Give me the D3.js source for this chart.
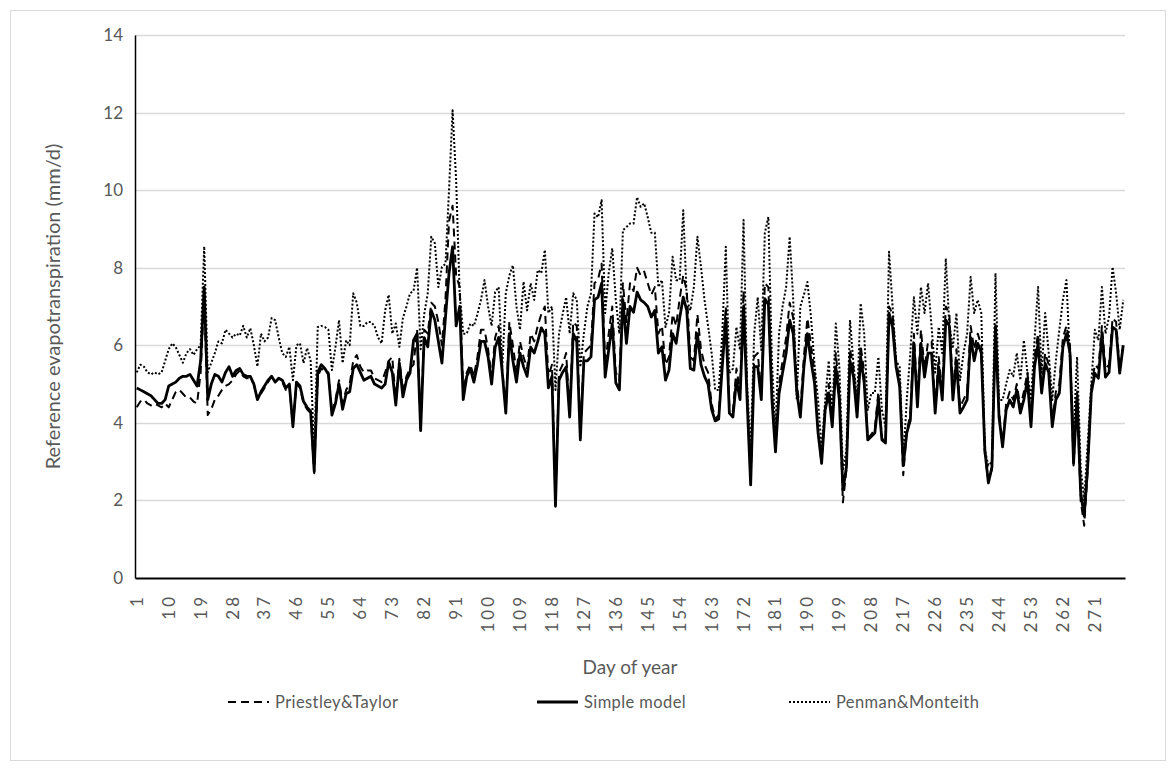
<html lang="en">
<head>
<meta charset="utf-8">
<title>Reference evapotranspiration</title>
<script src="https://d3js.org/d3.v7.min.js"></script>
<style>
  body { margin: 0; background: #fff; }
  text { font-family: Lato, "Open Sans", sans-serif; fill: #595959; }
</style>
</head>
<body>
<script>

// day of year 1..279
var days = d3.range(1, 280);

var xTickLabels = [1, 10, 19, 28, 37, 46, 55, 64, 73, 82, 91, 100, 109, 118, 127, 136,
  145, 154, 163, 172, 181, 190, 199, 208, 217, 226, 235, 244, 253, 262, 271];

var yTicks = [0, 2, 4, 6, 8, 10, 12, 14];

var seriesNames = ["Priestley&Taylor", "Simple model", "Penman&Monteith"];

// Simple model (mm/d)
var simpleModel = [
  4.9, 4.85, 4.8, 4.75, 4.7, 4.6, 4.5, 4.5, 4.6, 4.95,
  5.0, 5.05, 5.15, 5.2, 5.2, 5.25, 5.1, 4.95, 5.6, 7.5,
  4.6, 5.0, 5.25, 5.2, 5.05, 5.3, 5.45, 5.2, 5.35, 5.4,
  5.25, 5.2, 5.2, 5.0, 4.6, 4.8, 4.95, 5.1, 5.2, 5.05,
  5.15, 5.1, 4.9, 5.0, 3.9, 5.05, 4.95, 4.55, 4.4, 4.3,
  2.75, 5.3, 5.5, 5.4, 5.25, 4.2, 4.5, 5.0, 4.35, 4.75,
  4.8, 5.4, 5.5, 5.3, 5.1, 5.15, 5.2, 5.0, 4.95, 4.9,
  5.0, 5.57, 5.3, 4.46, 5.54, 4.67, 5.1, 5.28, 6.13, 6.3,
  3.8, 6.2, 5.96, 6.9, 6.65, 6.1, 5.54, 6.73, 7.86, 8.54,
  6.5, 7.0, 4.6, 5.2, 5.4, 5.05, 5.5, 6.1, 6.1, 5.7,
  5.0, 5.95, 6.2, 5.3, 4.25, 6.3, 5.6, 5.05, 5.8, 5.45,
  5.2, 5.95, 5.8, 6.1, 6.45, 6.3, 4.9, 5.2, 1.85, 5.1,
  5.3, 5.44, 4.15, 6.3, 6.1, 3.56, 5.6, 5.6, 5.7, 7.17,
  7.24, 7.6, 5.18, 5.88, 6.56, 5.03, 4.85, 7.17, 6.05, 7.0,
  6.85, 7.37, 7.17, 7.1, 7.0, 6.73, 6.9, 5.8, 5.96, 5.1,
  5.36, 6.3, 6.05, 6.7, 7.24, 6.9, 5.4, 5.36, 6.3, 5.5,
  5.2, 5.0, 4.35, 4.05, 4.1, 5.45, 6.7, 4.25, 4.15, 5.1,
  4.6, 7.0, 4.6, 2.4, 5.45, 5.45, 4.6, 7.2, 7.05, 4.6,
  3.25, 4.75, 5.3, 5.8, 6.65, 6.3, 4.8, 4.15, 5.44, 6.3,
  5.6, 5.03, 3.74, 2.96, 4.33, 4.77, 3.9, 5.44, 4.59, 2.27,
  2.86, 5.6, 5.18, 4.15, 5.7, 5.03, 3.56, 3.65, 3.74, 4.59,
  3.56, 3.48, 6.83, 6.47, 5.44, 4.93, 2.9, 3.74, 4.07, 6.05,
  4.41, 6.05, 5.18, 5.8, 5.8, 4.25, 5.44, 4.59, 6.65, 6.5,
  4.59, 5.6, 4.25, 4.41, 4.59, 6.2, 5.6, 6.05, 5.8, 3.3,
  2.45, 2.86, 6.47, 4.15, 3.38, 4.33, 4.59, 4.41, 4.85, 4.25,
  4.6, 5.1, 3.9, 5.44, 6.05, 4.77, 5.54, 5.3, 3.9, 4.59,
  4.77, 5.96, 6.3, 5.8, 2.96, 4.67, 2.2, 1.6, 2.9, 4.77,
  5.28, 5.15, 6.3, 5.18, 5.3, 6.47, 6.4, 5.28, 6.0
];

// Penman&Monteith (mm/d)
var penmanMonteith = [
  5.3, 5.5, 5.45, 5.3, 5.25, 5.3, 5.25, 5.3, 5.6, 5.9,
  6.05, 5.95, 5.75, 5.55, 5.8, 5.9, 5.75, 5.9, 6.0, 8.55,
  5.3, 5.55, 5.8, 6.1, 6.05, 6.4, 6.3, 6.2, 6.3, 6.25,
  6.5, 6.2, 6.44, 6.0, 5.45, 6.3, 6.1, 6.2, 6.7, 6.65,
  6.2, 5.8, 5.7, 5.96, 5.1, 6.0, 6.05, 5.54, 5.93, 5.6,
  3.2, 6.47, 6.5, 6.47, 6.4, 5.36, 5.96, 6.65, 5.54, 6.13,
  6.0, 7.34, 7.1, 6.5, 6.5, 6.6, 6.6, 6.5, 6.2, 6.05,
  6.9, 7.3, 6.3, 6.56, 5.96, 6.7, 7.0, 7.34, 7.4, 8.0,
  5.9, 6.8, 7.34, 8.8, 8.63, 7.5, 8.02, 8.1, 10.0, 12.06,
  10.26, 7.34, 6.3, 6.3, 6.56, 6.5, 6.8, 7.17, 7.68, 7.0,
  6.5, 7.37, 7.5, 5.44, 7.34, 7.8, 8.06, 7.0, 6.4, 7.64,
  6.9, 7.6, 7.17, 7.94, 7.86, 8.46, 6.83, 7.0, 4.85, 6.3,
  6.8, 7.24, 6.3, 7.34, 7.17, 5.44, 6.3, 7.0, 7.34, 9.4,
  9.3, 9.74, 6.83, 7.86, 8.5, 7.17, 6.3, 8.97, 9.05, 9.14,
  9.14, 9.82, 9.57, 9.66, 9.3, 8.9, 8.9, 7.5, 7.68, 6.47,
  6.83, 8.28, 7.68, 7.68, 9.48, 7.2, 6.9, 7.5, 8.8, 8.02,
  7.17, 6.5, 5.8, 4.85, 4.85, 6.3, 8.54, 5.28, 5.4, 6.47,
  5.88, 9.23, 5.03, 3.3, 6.3, 7.24, 5.88, 8.9, 9.31, 5.6,
  3.74, 6.3, 7.0, 7.5, 8.8, 7.17, 4.6, 7.0, 7.3, 7.63,
  6.73, 5.5, 4.59, 3.3, 4.59, 5.6, 4.15, 6.56, 5.44, 2.78,
  3.3, 6.65, 5.5, 4.59, 7.08, 6.3, 4.33, 4.77, 4.77, 5.7,
  4.33, 3.9, 8.41, 7.0, 5.6, 5.44, 3.0, 4.59, 5.8, 7.24,
  6.3, 7.5, 6.83, 7.6, 6.47, 5.3, 6.47, 5.8, 8.24, 6.5,
  5.96, 6.83, 5.1, 5.8, 6.3, 7.76, 6.83, 7.17, 6.83, 3.3,
  2.9, 3.0, 7.86, 4.59, 4.59, 5.0, 5.36, 5.2, 5.8, 5.1,
  6.13, 5.3, 4.59, 6.13, 7.5, 5.3, 6.83, 5.8, 4.59, 5.6,
  6.4, 7.17, 7.68, 5.6, 3.74, 5.7, 2.86, 2.0, 3.5, 5.0,
  6.4, 6.13, 7.5, 6.3, 6.73, 8.02, 7.34, 6.4, 7.17
];

// Priestley&Taylor (mm/d)
var priestleyTaylor = [
  4.4, 4.55, 4.6, 4.5, 4.45, 4.5, 4.45, 4.4, 4.5, 4.4,
  4.6, 4.8, 4.85, 4.75, 4.65, 4.65, 4.55, 4.5, 5.3, 7.3,
  4.2, 4.35, 4.6, 4.7, 4.85, 4.95, 5.0, 5.1, 5.25, 5.35,
  5.2, 5.15, 5.15, 5.0, 4.6, 4.75, 4.9, 5.05, 5.2, 5.05,
  5.15, 5.05, 4.85, 4.95, 3.95, 5.0, 4.9, 4.5, 4.35, 4.25,
  2.7, 5.2, 5.4, 5.35, 5.3, 4.3, 4.6, 5.1, 4.5, 4.85,
  5.0, 5.6, 5.75, 5.45, 5.3, 5.35, 5.35, 5.15, 5.1, 5.05,
  5.3, 5.6, 5.7, 4.55, 5.65, 4.8, 5.2, 5.4, 5.5, 6.4,
  3.85, 6.4, 6.3, 7.1, 7.0, 6.6, 6.0, 7.2, 9.2, 9.6,
  7.8, 7.5, 4.8, 5.3, 5.5, 5.2, 5.7, 6.4, 6.4, 5.9,
  5.2, 6.2, 6.5, 5.4, 4.3, 6.6, 6.0, 5.3, 6.1, 5.7,
  5.4, 6.3, 6.1, 6.5, 6.8, 7.0, 5.2, 5.5, 2.0, 5.3,
  5.5, 5.8, 4.3, 6.6, 6.5, 3.7, 5.8, 5.9, 6.0, 7.6,
  7.7, 8.1, 5.5, 6.3, 7.0, 5.3, 5.1, 7.6, 6.6, 7.6,
  7.4, 8.0, 7.8, 7.9, 7.6, 7.3, 7.5, 6.3, 6.5, 5.5,
  5.7, 6.8, 6.5, 7.2, 7.8, 7.4, 5.7, 5.6, 6.8, 5.9,
  5.5, 5.3, 4.5, 4.1, 4.2, 5.7, 7.0, 4.4, 4.3, 5.4,
  4.8, 7.4, 4.8, 2.5, 5.7, 5.8, 4.8, 7.6, 7.5, 4.8,
  3.3, 5.0, 5.6, 6.2, 7.1, 6.7, 5.0, 4.3, 5.7, 6.7,
  6.0, 5.3, 3.8, 2.95, 4.4, 5.0, 4.0, 5.8, 4.8, 1.95,
  2.8, 5.9, 5.4, 4.3, 6.0, 5.3, 3.6, 3.7, 3.85, 4.8,
  3.6, 3.5, 7.0, 6.8, 5.6, 5.1, 2.65, 3.8, 4.2, 6.3,
  4.6, 6.4, 5.4, 6.1, 6.1, 4.4, 5.7, 4.8, 7.0, 6.8,
  4.8, 5.9, 4.4, 4.6, 4.8, 6.5, 5.9, 6.3, 6.0, 3.2,
  2.5, 2.8, 6.6, 4.3, 3.4, 4.5, 4.8, 4.6, 5.0, 4.4,
  4.8, 5.3, 4.0, 5.7, 6.3, 4.9, 5.8, 5.5, 4.0, 4.8,
  5.0, 6.2, 6.5, 6.0, 2.9, 4.8, 2.0, 1.35, 2.8, 4.9,
  5.5, 5.4, 6.5, 5.4, 5.5, 6.7, 6.6, 5.4, 6.0
];

var width = 1174, height = 769;
var margin = {left: 135, right: 49, top: 35, bottom: 191};

var svg = d3.select("body").append("svg")
    .attr("width", width)
    .attr("height", height);

// chart area border
svg.append("rect")
    .attr("x", 10.5).attr("y", 10.5)
    .attr("width", 1155).attr("height", 750)
    .attr("fill", "#fff")
    .attr("stroke", "#d9d9d9");

var x = d3.scaleBand()
    .domain(days)
    .range([margin.left, width - margin.right]);

var y = d3.scaleLinear()
    .domain([0, 14])
    .range([height - margin.bottom, margin.top]);

// gridlines
svg.append("g")
    .selectAll("line")
    .data(yTicks.slice(1))
    .enter().append("line")
      .attr("x1", margin.left)
      .attr("x2", width - margin.right)
      .attr("y1", function(d) { return Math.round(y(d)) + 0.5; })
      .attr("y2", function(d) { return Math.round(y(d)) + 0.5; })
      .attr("stroke", "#d9d9d9")
      .attr("stroke-width", 1.3);

// y axis
var yAxis = svg.append("g")
    .attr("transform", "translate(" + margin.left + ",0)")
    .call(d3.axisLeft(y).tickValues(yTicks).tickSize(0).tickPadding(12));
yAxis.select(".domain").attr("stroke", "#000").attr("stroke-width", 1.5);
yAxis.selectAll("text").attr("font-size", "17px").attr("fill", "#595959");

// x axis
var xAxis = svg.append("g")
    .attr("transform", "translate(0," + (height - margin.bottom) + ")")
    .call(d3.axisBottom(x).tickValues(xTickLabels).tickSize(0));
xAxis.select(".domain").attr("stroke", "#000").attr("stroke-width", 2);
xAxis.selectAll("text")
    .attr("font-size", "17px")
    .attr("letter-spacing", "3px")
    .attr("fill", "#595959")
    .attr("text-anchor", "end")
    .attr("transform", "rotate(-90)")
    .attr("x", -16)
    .attr("y", 0)
    .attr("dy", "0.35em");

var line = d3.line()
    .x(function(d, i) { return x(days[i]) + x.bandwidth() / 2; })
    .y(function(d) { return y(d); });

var styles = [
  {data: priestleyTaylor, width: 2, dash: "8,5"},
  {data: simpleModel, width: 2.8, dash: null},
  {data: penmanMonteith, width: 2, dash: "2,2"}
];

svg.append("g")
    .selectAll("path")
    .data([styles[2], styles[0], styles[1]])
    .enter().append("path")
      .attr("d", function(d) { return line(d.data); })
      .attr("fill", "none")
      .attr("stroke", "#000")
      .attr("stroke-width", function(d) { return d.width; })
      .attr("stroke-dasharray", function(d) { return d.dash; })
      .attr("stroke-linejoin", "round");

// axis titles
svg.append("text")
    .attr("x", (margin.left + width - margin.right) / 2)
    .attr("y", 674)
    .attr("text-anchor", "middle")
    .attr("font-size", "19px")
    .text("Day of year");

svg.append("text")
    .attr("transform", "translate(60," + ((margin.top + height - margin.bottom) / 2) + ") rotate(-90)")
    .attr("text-anchor", "middle")
    .attr("font-size", "20px")
    .text("Reference evapotranspiration (mm/d)");

// legend
var legendX = [228, 537, 789];
var legend = svg.append("g").selectAll("g")
    .data(styles)
    .enter().append("g")
      .attr("transform", function(d, i) { return "translate(" + legendX[i] + ",702)"; });

legend.append("line")
    .attr("x1", 0).attr("x2", 41)
    .attr("stroke", "#000")
    .attr("stroke-width", function(d) { return d.width; })
    .attr("stroke-dasharray", function(d) { return d.dash; });

legend.append("text")
    .attr("x", 47)
    .attr("dy", "0.35em")
    .attr("font-size", "16.5px")
    .attr("letter-spacing", "0.4px")
    .text(function(d, i) { return seriesNames[i]; });

</script>
</body>
</html>
